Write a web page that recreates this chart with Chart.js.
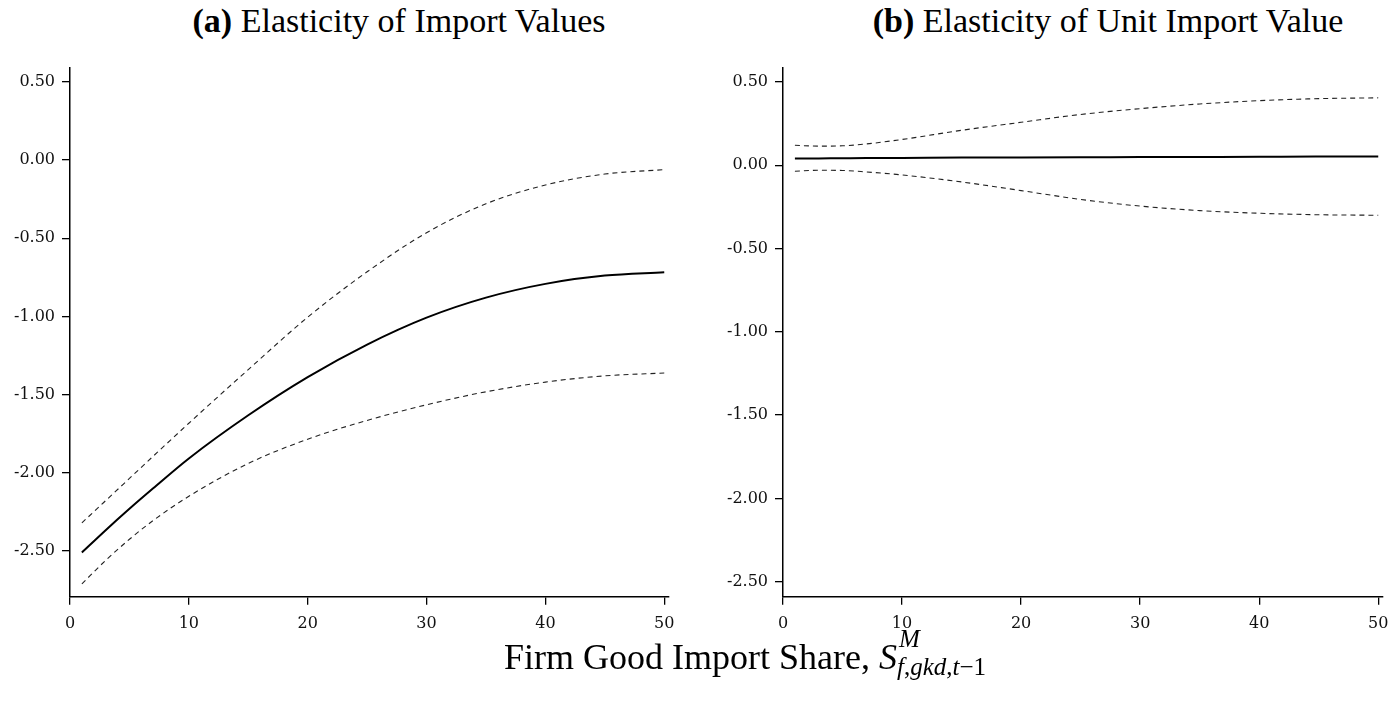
<!DOCTYPE html>
<html><head><meta charset="utf-8">
<script src="https://cdn.jsdelivr.net/npm/chart.js@4.4.0/dist/chart.umd.min.js"></script>
<style>
html,body{margin:0;padding:0;background:#fff;width:1389px;height:707px;overflow:hidden;position:relative}
canvas{position:absolute;top:60px}
#cA{left:0px}
#cB{left:700px}
.title{position:absolute;top:1px;font-family:"Liberation Serif",serif;font-size:34px;line-height:40px;white-space:nowrap;color:#000;text-align:center;width:700px}
.title b{font-family:"Liberation Serif",serif;font-weight:bold}
#tA{left:49px}
#tB{left:758px}
#xlab{position:absolute;left:504px;top:637px;font-family:"Liberation Serif",serif;font-size:36px;line-height:40px;white-space:nowrap;color:#000}
.ss{display:inline-block;position:relative;width:95px;height:30px;vertical-align:baseline}
.sup{position:absolute;left:2px;top:-13px;font-size:25px;line-height:25px;font-style:italic}
.sub{position:absolute;left:0px;top:15px;font-size:25px;line-height:25px}
</style>
</head><body>
<div class="title" id="tA"><b>(a)</b> Elasticity of Import Values</div>
<div class="title" id="tB"><b>(b)</b> Elasticity of Unit Import Value</div>
<canvas id="cA" width="700" height="580"></canvas>
<canvas id="cB" width="689" height="580"></canvas>
<div id="xlab">Firm Good Import Share, <i>S</i><span class="ss"><span class="sup">M</span><span class="sub"><i>f</i>,<i>gkd</i>,<i>t</i>−1</span></span></div>
<script>
// Firm good import share (x)
const shareX = [1, 3, 5, 7, 10, 15, 20, 25, 30, 35, 40, 45, 50];
// (a) Elasticity of import values
const valueEst   = [-2.51, -2.367, -2.230, -2.099, -1.908, -1.632, -1.388, -1.180, -1.008, -0.880, -0.792, -0.739, -0.718];
const valueUpper = [-2.32, -2.178, -2.036, -1.894, -1.683, -1.340, -1.005, -0.715, -0.465, -0.280, -0.160, -0.090, -0.062];
const valueLower = [-2.71, -2.560, -2.425, -2.305, -2.150, -1.940, -1.785, -1.665, -1.565, -1.482, -1.420, -1.380, -1.362];
// (b) Elasticity of unit import value
const unitEst   = [0.040, 0.041, 0.042, 0.043, 0.044, 0.046, 0.047, 0.048, 0.049, 0.050, 0.051, 0.052, 0.052];
const unitUpper = [0.120, 0.115, 0.117, 0.128, 0.155, 0.210, 0.258, 0.305, 0.340, 0.368, 0.388, 0.400, 0.405];
const unitLower = [-0.036, -0.030, -0.031, -0.040, -0.058, -0.100, -0.152, -0.205, -0.245, -0.272, -0.288, -0.297, -0.300];
// tick labels
const xTicks = [0, 10, 20, 30, 40, 50];
const yTicks = [-2.5, -2.0, -1.5, -1.0, -0.5, 0.0, 0.5];

Chart.defaults.font.family = '"DejaVu Serif", serif';
Chart.defaults.font.size = 16;
Chart.defaults.color = '#111';

function pts(ys){ return shareX.map((x,i)=>({x:x, y:ys[i]})); }

function makeChart(id, est, up, lo, yMin, yMax, yW, padR){
  const solid = {borderColor:'#000', borderWidth:2, pointRadius:0, cubicInterpolationMode:'monotone', fill:false};
  const dash = {borderColor:'#222', borderWidth:1.1, borderDash:[5,4], pointRadius:0, cubicInterpolationMode:'monotone', fill:false};
  return new Chart(document.getElementById(id), {
    type:'line',
    data:{datasets:[
      Object.assign({data:pts(up)}, dash),
      Object.assign({data:pts(lo)}, dash),
      Object.assign({data:pts(est)}, solid)
    ]},
    options:{
      responsive:false, animation:false, devicePixelRatio:1,
      layout:{padding:{left:0, right:padR, top:8, bottom:0}},
      plugins:{legend:{display:false}, tooltip:{enabled:false}},
      scales:{
        x:{type:'linear', min:0, max:50.4,
          afterBuildTicks:(s)=>{s.ticks = xTicks.map(v=>({value:v}));},
          afterFit:(s)=>{s.height = 43.3; s.paddingLeft=0; s.paddingRight=0;},
          ticks:{padding:10, maxRotation:0, callback:(v)=>String(v)},
          grid:{display:true, drawOnChartArea:false, drawTicks:true, tickLength:8, color:'#000', lineWidth:1.3},
          border:{display:true, color:'#000', width:1.5}
        },
        y:{type:'linear', min:yMin, max:yMax,
          afterBuildTicks:(s)=>{s.ticks = yTicks.map(v=>({value:v}));},
          afterFit:(s)=>{s.width = yW; s.paddingTop=0; s.paddingBottom=0;},
          ticks:{padding:7, callback:(v)=>v.toFixed(2)},
          grid:{display:true, drawOnChartArea:false, drawTicks:true, tickLength:8, color:'#000', lineWidth:1.3},
          border:{display:true, color:'#000', width:1.5}
        }
      }
    }
  });
}
makeChart('cA', valueEst, valueUpper, valueLower, -2.792, 0.588, 70, 31);
makeChart('cB', unitEst, unitUpper, unitLower, -2.59, 0.584, 83, 6);
</script>
</body></html>
